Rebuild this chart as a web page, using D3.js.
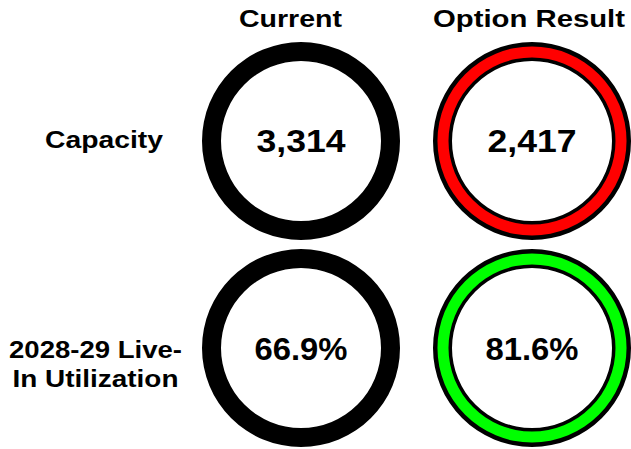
<!DOCTYPE html>
<html>
<head>
<meta charset="utf-8">
<script src="https://cdn.jsdelivr.net/npm/d3@7"></script>
<style>
  html, body { margin: 0; padding: 0; background: #fff; }
  svg { display: block; }
  text { font-family: "Liberation Sans", Arial, sans-serif; font-weight: bold; fill: #000; }
</style>
</head>
<body>
<svg id="chart" width="631" height="449"></svg>
<script>
// ---- data ----
const columns = ["Current", "Option Result"];
const rows = ["Capacity", "2028-29 Live-In Utilization"];
const rowLabelLines = [["Capacity"], ["2028-29 Live-", "In Utilization"]];
const currentValues = [3314, 0.669];
const optionValues = [2417, 0.816];
const valueFormats = [",", ".1%"];
const optionStatus = ["bad", "good"];

// ---- drawing ----
const W = 631, H = 449;
const svg = d3.select("#chart");

const x = d3.scalePoint().domain(columns).range([301, 532]);
const y = d3.scalePoint().domain(rows).range([141, 348]);
const statusColor = d3.scaleOrdinal().domain(["bad", "good"]).range(["#ff0000", "#00ff00"]);

const R = 99;       // outer radius
const Rin = 80;     // inner radius

const cells = [];
rows.forEach((r, i) => {
  cells.push({ row: r, col: columns[0], value: currentValues[i], fmt: valueFormats[i], status: null });
  cells.push({ row: r, col: columns[1], value: optionValues[i], fmt: valueFormats[i], status: optionStatus[i] });
});

const arc = d3.arc().startAngle(0).endAngle(2 * Math.PI);

const g = svg.selectAll("g.cell").data(cells).join("g")
  .attr("class", "cell")
  .attr("transform", d => `translate(${x(d.col)},${y(d.row)})`);

// black ring (outer border to inner edge)
g.append("path")
  .attr("d", arc.innerRadius(Rin).outerRadius(R)())
  .attr("fill", "#000");

// coloured band inside the black ring for option results
g.filter(d => d.status)
  .append("path")
  .attr("d", d3.arc().startAngle(0).endAngle(2 * Math.PI).innerRadius(Rin + 3.5).outerRadius(R - 4.5)())
  .attr("fill", d => statusColor(d.status));

// values
g.append("text")
  .attr("text-anchor", "middle")
  .attr("y", d => d.row === rows[0] ? 10.7 : 11.5)
  .attr("font-size", 30.5)
  .attr("textLength", d => d.fmt === "," ? 89 : 93)
  .attr("lengthAdjust", "spacingAndGlyphs")
  .text(d => d3.format(d.fmt)(d.value));

// column headers
const headerOffset = { "Current": -10.5, "Option Result": -3 };
const headerWidth = { "Current": 103, "Option Result": 192 };
svg.selectAll("text.header").data(columns).join("text")
  .attr("class", "header")
  .attr("x", d => x(d) + headerOffset[d])
  .attr("y", 27)
  .attr("text-anchor", "middle")
  .attr("font-size", 23)
  .attr("textLength", d => headerWidth[d])
  .attr("lengthAdjust", "spacingAndGlyphs")
  .text(d => d);

// row labels
const labelCenterX = [104, 95.5];
const labelWidths = [[118], [173, 166]];
rows.forEach((r, i) => {
  const lines = rowLabelLines[i];
  const lh = 29;
  const firstBaseline = i === 0 ? 148 : 358;
  lines.forEach((ln, j) => {
    svg.append("text")
      .attr("class", "rowlabel")
      .attr("x", labelCenterX[i])
      .attr("y", firstBaseline + j * lh)
      .attr("text-anchor", "middle")
      .attr("font-size", 23)
      .attr("textLength", labelWidths[i][j])
      .attr("lengthAdjust", "spacingAndGlyphs")
      .text(ln);
  });
});
</script>
</body>
</html>
